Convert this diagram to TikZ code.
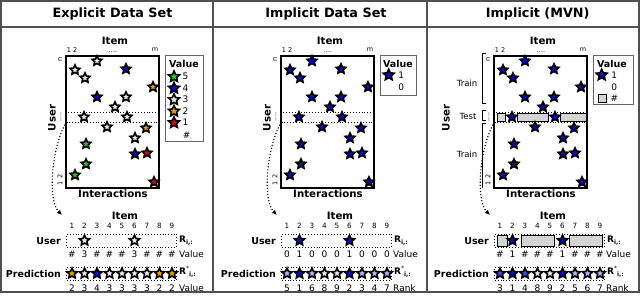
\documentclass[tikz,border=0pt]{standalone}
\usepackage{fontspec}
\setmainfont{DejaVu Sans}
\usetikzlibrary{shapes.geometric,arrows.meta}
\definecolor{cg}{HTML}{1ECC1E}
\definecolor{cb}{HTML}{0A0ACD}
\definecolor{cw}{HTML}{E8E8E8}
\definecolor{co}{HTML}{E6A000}
\definecolor{cr}{HTML}{DD0025}
\definecolor{cl}{HTML}{AEB2EE}
\definecolor{cm}{HTML}{3F4FE0}
\definecolor{cgb}{HTML}{D4D4D4}
\definecolor{pan}{HTML}{505050}
\newcommand\fs[1]{\fontsize{#1}{#1}\selectfont}
\newcommand\Rlab{\textbf{R}\raisebox{-1.8pt}{\fs{6}\bfseries i,:}}
\newcommand\Rslab{\textbf{R}\raisebox{3.5pt}{\fs{6}*}\raisebox{-2.2pt}{\fs{6}\bfseries i,:}}
\newcommand\panelbase[1]{%
  \node[mat, minimum width=93pt, minimum height=132pt, anchor=north west] (M) at (66,56) {};
  \node[bll] (item) at (115,40.5) {Item};
  \node[tny] (t12) at (72,50) {1\,\,2};
  \node[tny] (tdots) at (113,52) {....};
  \node[tny] (tm) at (155,50) {m};
  \node[tny, rotate=90] (tn) at (60,59) {n};
  \node[tny, rotate=90] (t21) at (60,180) {1\,\,2};
  \node[tny, rotate=90] (tvd) at (61,117) {....};
  \node[bll, rotate=90] (user) at (#1,118) {User};
  \node[bll] (inter) at (113,194) {Interactions};
  \node[dotbox, minimum width=92pt, minimum height=10pt, anchor=north west] (row) at (66.5,112) {};
  \coordinate (tip) at (62,215);
  \draw[arr] (row.south west) .. controls (52,145) and (47,200) .. (tip);
  \node[bll] (item2) at (125,216) {Item};
  \foreach \k in {1,...,9} \node[cnum] (c\k) at ({72+12.5*(\k-1)},226) {\k};
  \node[dotbox, minimum width=110pt, minimum height=13pt] (urow) at (121.7,240.5) {};
  \node[bl, anchor=east] (ulab) at (61,241) {User};
  \node[txt, anchor=west] (rlab) at (179,241) {\Rlab};
  \node[dotbox, minimum width=110pt, minimum height=13pt] (prow) at (121.7,273.5) {};
  \node[bl, anchor=east] (plab) at (61,273.5) {Prediction};
  \node[txt, anchor=west] (rslab) at (179,272) {\Rslab};
}
\begin{document}
\begin{tikzpicture}[x=1pt,y=-1pt,
  st/.style={star,star points=5,star point ratio=2.1,draw=black,line width=1.6pt,minimum size=10.3pt,inner sep=0pt,outer sep=0pt},
  lst/.style={st,minimum size=11.5pt},
  pst/.style={st,minimum size=10.8pt},
  txt/.style={font=\fs{9}, inner sep=0pt},
  dig/.style={font=\fs{9}, inner sep=0pt, text height=6.6pt, text depth=0pt},
  bl/.style={font=\bfseries\fs{9.5}, inner sep=0pt},
  bll/.style={font=\bfseries\fs{10.2}, inner sep=0pt},
  tny/.style={font=\fs{6.5}, inner sep=0pt},
  cnum/.style={font=\fs{7.2}, inner sep=0pt, text height=5.2pt, text depth=0pt},
  ttl/.style={font=\bfseries\fs{12.8}, inner sep=0pt},
  mat/.style={draw=black,line width=1.3pt,inner sep=0pt,outer sep=0pt},
  dotbox/.style={draw=black,dotted,line width=0.9pt,inner sep=0pt,outer sep=0pt},
  gbox/.style={draw=black,fill=cgb,line width=0.6pt,inner sep=0pt,outer sep=0pt},
  leg/.style={draw=black!60,line width=1pt,inner sep=0pt,outer sep=0pt},
  arr/.style={dotted,line width=1.1pt,-{Latex[length=5pt,width=4.5pt]}},
  frm/.style={draw=pan,line width=1.4pt},
]
\useasboundingbox (0,0) rectangle (640,296);
\fill[white] (0,0) rectangle (640,296);
% frame
\draw[frm] (1,1) rectangle (639,292);
\draw[frm] (1,27) -- (639,27);
\draw[frm] (213,1) -- (213,292);
\draw[frm] (427,1) -- (427,292);
\node[ttl] (t1) at (112.5,14) {Explicit Data Set};
\node[ttl] (t2) at (326,14) {Implicit Data Set};
\node[ttl] (t3) at (537.7,14) {Implicit (MVN)};

% ---------------- Explicit
\begin{scope}[name prefix=a-]
\panelbase{52}
\foreach \x/\y/\c [count=\i] in {97/61/cw,75/70/cw,126/69/cb,85/78/cw,153/87/co,97/97/cb,126/97/cw,115/107/cw,84/117/cw,127/117/cw,107/127/cw,146/128/co,135/138/cw,86/144/cg,135/154/cb,147/153/cr,86/164/cg,75/175/cg,154/182/cr}
  \node[st,fill=\c] (s\i) at (\x,\y) {};
\node[leg, minimum width=38pt, minimum height=86pt, anchor=north west] (lg) at (165,56) {};
\node[bl] (lgv) at (184,64) {Value};
\foreach \c/\t [count=\i] in {cg/5,cb/4,cw/3,co/2,cr/1} {
  \node[lst,fill=\c] (ls\i) at (174,{65.2+11.5*\i}) {};
  \node[dig,anchor=west] (lt\i) at (182.5,{65.2+11.5*\i}) {\t};
}
\node[dig] (lth) at (186.7,135) {\#};
\node[pst,fill=cw] (u2) at (84.5,240.5) {};
\node[pst,fill=cw] (u6) at (134.5,240.5) {};
\foreach \v/\pc/\pn [count=\k] in {\#/co/2,3/cw/3,\#/cb/4,\#/cw/3,\#/cw/3,3/cw/3,\#/cw/3,\#/co/2,\#/co/2} {
  \node[dig] (v\k) at ({72+12.5*(\k-1)},254) {\v};
  \node[pst,fill=\pc] (p\k) at ({72+12.5*(\k-1)},273.5) {};
  \node[dig] (q\k) at ({72+12.5*(\k-1)},288) {\pn};
}
\node[txt,anchor=west] (vl) at (179,254) {Value};
\node[txt,anchor=west] (ql) at (179,288) {Value};
\end{scope}

% ---------------- Implicit
\begin{scope}[xshift=215pt, name prefix=b-]
\panelbase{52}
\foreach \x/\y [count=\i] in {97/61,75/70,126/69,85/78,153/87,97/97,126/97,115/107,84/117,127/117,107/127,146/128,135/138,86/144,135/154,147/153,86/164,75/175,154/182}
  \node[st,fill=cb] (s\i) at (\x,\y) {};
\node[leg, minimum width=36pt, minimum height=40pt, anchor=north west] (lg) at (165,56) {};
\node[bl] (lgv) at (183,64) {Value};
\node[lst,fill=cb] (ls1) at (173.7,75) {};
\node[dig] (lt1) at (186.3,75) {1};
\node[dig] (lt0) at (186.3,87) {0};
\node[pst,fill=cb] (u2) at (84.5,240.5) {};
\node[pst,fill=cb] (u6) at (134.5,240.5) {};
\foreach \v/\pc/\pn [count=\k] in {0/cl/5,1/cb/1,0/cl/6,0/cw/8,0/cw/9,1/cb/2,0/cl/3,0/cl/4,0/cl/7} {
  \node[dig] (v\k) at ({72+12.5*(\k-1)},254) {\v};
  \node[pst,fill=\pc] (p\k) at ({72+12.5*(\k-1)},273.5) {};
  \node[dig] (q\k) at ({72+12.5*(\k-1)},288) {\pn};
}
\node[txt,anchor=west] (vl) at (178,254) {Value};
\node[txt,anchor=west] (ql) at (178,288) {Rank};
\end{scope}

% ---------------- MVN
\begin{scope}[xshift=428pt, name prefix=c-]
\panelbase{18}
\node[gbox, minimum width=7.7pt, minimum height=8pt] (g1) at (73.2,117) {};
\node[gbox, minimum width=31pt, minimum height=8pt] (g2) at (104.8,117) {};
\node[gbox, minimum width=26pt, minimum height=8pt] (g3) at (145,117) {};
\foreach \x/\y [count=\i] in {97/61,75/70,126/69,85/78,153/87,97/97,126/97,115/107,84/117,127/117,107/127,146/128,135/138,86/144,135/154,147/153,86/164,75/175,154/182}
  \node[st,fill=cb] (s\i) at (\x,\y) {};
% brackets
\draw[line width=1pt] (58,54) -- (54,54) -- (54,104) -- (58,104);
\draw[line width=1pt] (58,111) -- (54,111) -- (54,121) -- (58,121);
\draw[line width=1pt] (58,124) -- (54,124) -- (54,188);
\node[txt,font=\fs{8.5}] (tr1) at (39,83) {Train};
\node[txt,font=\fs{8.5}] (te) at (40,116) {Test};
\node[txt,font=\fs{8.5}] (tr2) at (39,154) {Train};
\node[leg, minimum width=40pt, minimum height=49pt, anchor=north west] (lg) at (165,56) {};
\node[bl] (lgv) at (184,64) {Value};
\node[lst,fill=cb] (ls1) at (173.7,75) {};
\node[dig] (lt1) at (186.3,75) {1};
\node[dig] (lt0) at (186.3,87) {0};
\node[gbox, minimum width=8pt, minimum height=8pt] (lg0) at (174.7,98.3) {};
\node[dig] (lth) at (186.3,98.3) {\#};
\node[gbox, minimum width=10pt, minimum height=11pt] (ug1) at (73.8,240.5) {};
\node[gbox, minimum width=32.6pt, minimum height=11pt] (ug2) at (110,240.5) {};
\node[gbox, minimum width=32.6pt, minimum height=11pt] (ug3) at (157.6,240.5) {};
\node[pst,fill=cb] (u2) at (84.5,240.5) {};
\node[pst,fill=cb] (u6) at (134.5,240.5) {};
\foreach \v/\pc/\pn [count=\k] in {\#/cm/3,1/cb/1,\#/cm/4,\#/cw/8,\#/cw/9,1/cb/2,\#/cl/5,\#/cl/6,\#/cl/7} {
  \node[dig] (v\k) at ({72+12.5*(\k-1)},254) {\v};
  \node[pst,fill=\pc] (p\k) at ({72+12.5*(\k-1)},273.5) {};
  \node[dig] (q\k) at ({72+12.5*(\k-1)},288) {\pn};
}
\node[txt,anchor=west] (vl) at (178,254) {Value};
\node[txt,anchor=west] (ql) at (178,288) {Rank};
\end{scope}
\end{tikzpicture}
\end{document}
